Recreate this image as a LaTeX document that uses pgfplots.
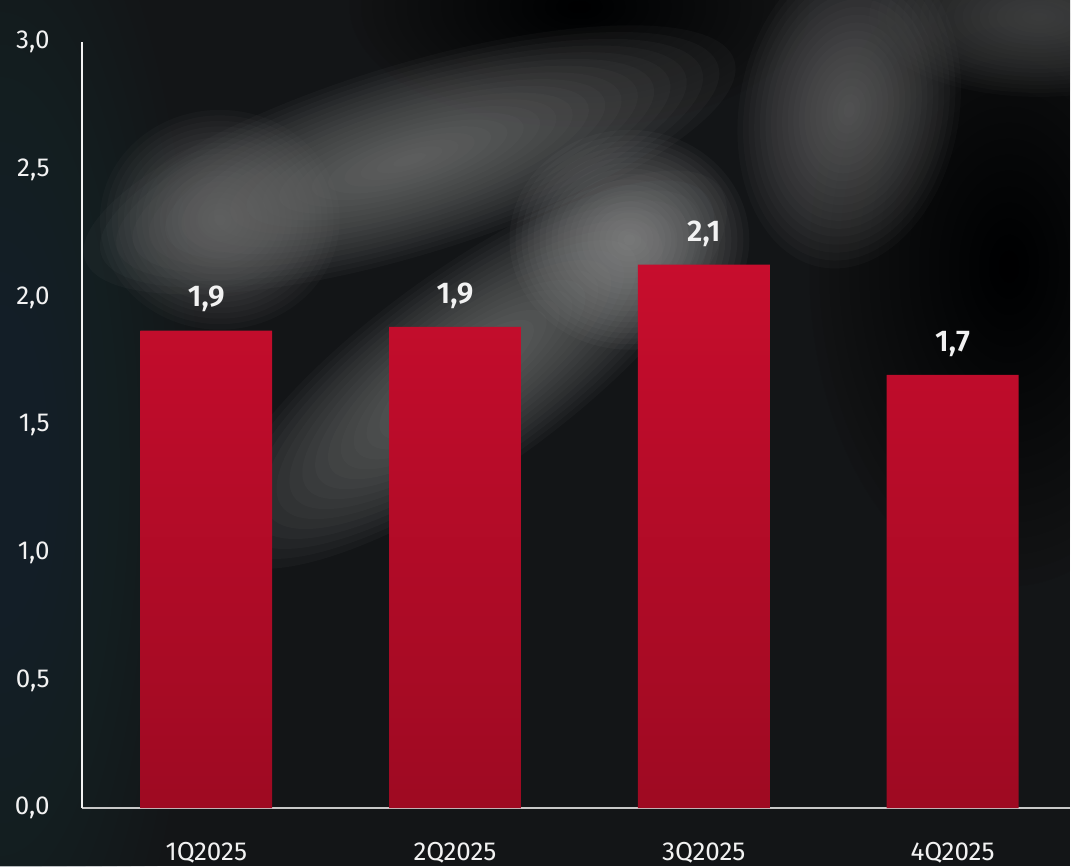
\documentclass[border=0pt]{standalone}
\usepackage{pgfplots}
\pgfplotsset{compat=1.18}
\usepackage{fontspec}
\setmainfont{Fira Sans}[BoldFont={Fira Sans SemiBold}]
\definecolor{bg}{HTML}{131517}
\definecolor{bgblue}{HTML}{26313A}
\definecolor{blobgray}{HTML}{8E8E8E}
\definecolor{barTop}{HTML}{C70D2D}
\definecolor{barBot}{HTML}{9E0A22}
\definecolor{axisgray}{HTML}{C8C8C8}
\definecolor{txt}{HTML}{F2F2F2}
% soft blob: x y rx ry angle colour
\newcommand\blob[6]{%
  \begin{scope}[shift={(#1,#2)}, rotate=#5]
  \foreach \s in {1,0.95,...,0.04} {\fill[#6, fill opacity=0.05] (0,0) ellipse ({#3*\s} and {#4*\s});}
  \end{scope}}

\pgfplotstableread{
x y
0 1.87
1 1.885
2 2.128
3 1.697
}\datatable

\begin{document}
\begin{tikzpicture}
% background in pixel units (y up: y_tikz = 867 - y_px)
\begin{scope}[x=0.5pt,y=0.5pt]
\path[use as bounding box] (0,0) rectangle (1071,867);
\clip (0,0) rectangle (1071,867);
\fill[bg] (0,0) rectangle (1071,867);
\blob{0}{400}{200}{650}{0}{bgblue}
\blob{580}{860}{230}{120}{0}{black}
\blob{1010}{600}{200}{320}{0}{black}
\blob{410}{707}{340}{95}{17}{blobgray}
\blob{220}{647}{120}{110}{0}{blobgray!85!bg}
\blob{850}{757}{110}{160}{-10}{blobgray!85!bg}
\blob{1040}{850}{170}{80}{0}{blobgray!60!bg}
\blob{470}{497}{310}{100}{36}{blobgray}
\blob{630}{627}{120}{110}{0}{blobgray!80!white}
\end{scope}

\begin{axis}[
  at={(41pt,29pt)}, anchor=south west,
  scale only axis, width=494.5pt, height=383.5pt,
  xmin=-0.5, xmax=3.472, ymin=0, ymax=3,
  axis x line=bottom, axis y line=left,
  axis line style={-},
  x axis line style={axisgray, line width=1pt},
  y axis line style={txt, line width=1pt},
  major tick length=0pt,
  ytick={0,0.5,1,1.5,2,2.5,3},
  xtick={0,1,2,3},
  xticklabels={1Q2025,2Q2025,3Q2025,4Q2025},
  /pgf/number format/.cd, fixed, fixed zerofill, precision=1, use comma, assume math mode=true,
  /pgfplots/.cd,
  tick label style={font=\fontsize{13}{15}\selectfont, text=txt},
  yticklabel style={anchor=east, inner sep=0pt, xshift=-16pt},
  xticklabel style={anchor=north, inner sep=0pt, yshift=-17pt},
  ybar, bar width=0.53, bar shift=0pt,
  nodes near coords={\pgfmathprintnumber[fixed,fixed zerofill,precision=1,use comma,assume math mode=true]{\pgfplotspointmeta}},
  every node near coord/.append style={font=\fontsize{15}{17}\selectfont\bfseries, text=txt, anchor=south, inner sep=0pt, yshift=9pt},
  clip=false,
]
\addplot[draw=none, top color=barTop, bottom color=barBot] table[x=x,y=y] {\datatable};
\end{axis}
\end{tikzpicture}
\end{document}
